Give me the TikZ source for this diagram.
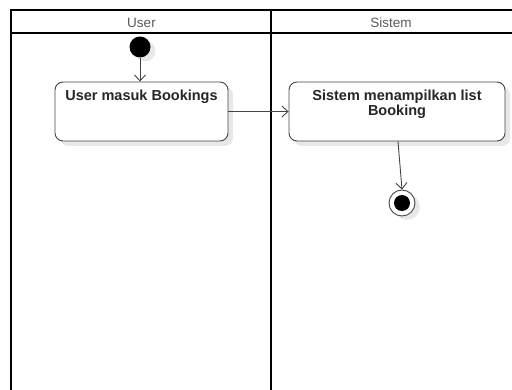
\documentclass[tikz,border=0pt]{standalone}
\usepackage{fontspec}
\setmainfont{Liberation Sans}
\usetikzlibrary{arrows.meta,shadows}
\definecolor{edge}{HTML}{444444}
\definecolor{shade}{HTML}{E8E8E8}
\tikzset{
  lane/.style={line width=1.8pt, black},
  head/.style={text=black!65, font=\fontsize{13.5}{14}\selectfont, inner sep=0pt},
  action/.style={draw=edge, line width=0.9pt, rounded corners=8pt, fill=white,
    drop shadow={shadow xshift=5pt, shadow yshift=-5pt, fill=shade, opacity=1}},
  actlabel/.style={font=\bfseries\fontsize{14.5}{14.5}\selectfont, align=center, anchor=north,
    inner sep=0pt, text=black!85},
  flow/.style={draw=edge, line width=0.9pt, -{Straight Barb[length=6pt,width=11pt,line width=0.9pt]}},
}
\begin{document}
\begin{tikzpicture}[x=1pt,y=-1pt]
\useasboundingbox (0,0) rectangle (512,390);
% swimlane frame
\draw[lane] (512,10) -- (11,10) -- (11,390);
\draw[lane] (11,33) -- (512,33);
\draw[lane] (271,10) -- (271,390);
\node[head, anchor=base] (hUser) at (141.5,28) {User};
\node[head, anchor=base] (hSistem) at (391,28) {Sistem};
% start node
\node[circle, fill=black, minimum size=21pt, inner sep=0pt,
  drop shadow={shadow xshift=5pt, shadow yshift=-4pt, fill=shade, opacity=1}] (start) at (140,47) {};
% actions
\node[action, minimum width=173pt, minimum height=59pt, inner sep=0pt] (a1) at (141.5,111.5) {};
\node[actlabel] (t1) at (a1.north) [yshift=-8.5pt] {User masuk Bookings};
\node[action, minimum width=216pt, minimum height=59pt, inner sep=0pt] (a2) at (397,111.5) {};
\node[actlabel] (t2) at (a2.north) [yshift=-8.5pt] {Sistem menampilkan list\\Booking};
% final node
\node[circle, draw=edge, line width=0.9pt, fill=white, minimum size=26pt, inner sep=0pt,
  drop shadow={shadow xshift=5pt, shadow yshift=-4pt, fill=shade, opacity=1}] (final) at (402,203) {};
\node[circle, fill=black, minimum size=16pt, inner sep=0pt] (finalDot) at (final) {};
% flows
\draw[flow] (start) -- (a1.north -| start);
\draw[flow] (a1.east) -- (a2.west);
\draw[flow] (a2.south -| 398,0) -- (final.north);
\end{tikzpicture}
\end{document}
